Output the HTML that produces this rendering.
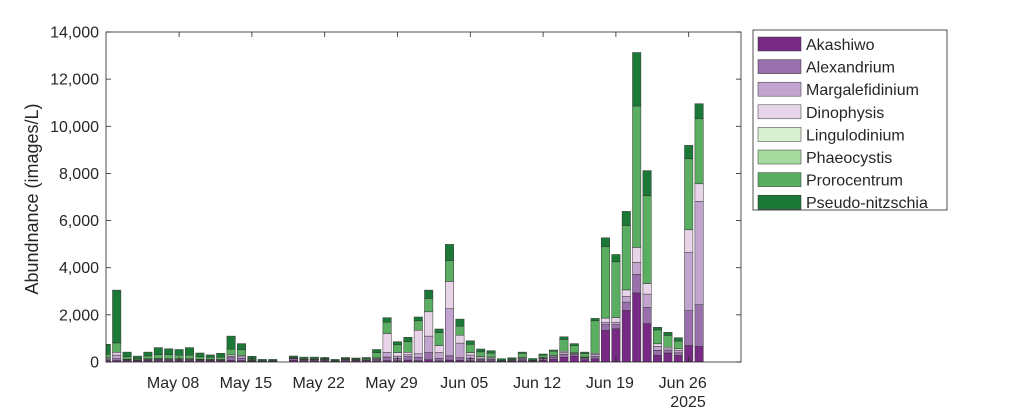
<!DOCTYPE html>
<html><head><meta charset="utf-8"><style>
body{margin:0;background:#fff;}
svg text{font-family:"Liberation Sans",Arial,sans-serif;fill:#262626;}
</style></head><body>
<svg id="s" width="1024" height="411" xmlns="http://www.w3.org/2000/svg"></svg>
<script>
const s=document.getElementById('s');
const C=['#762a83','#9970ab','#c2a5cf','#e7d4e8','#d9f0d3','#a6dba0','#5aae61','#1b7837'];
const N=['Akashiwo','Alexandrium','Margalefidinium','Dinophysis','Lingulodinium','Phaeocystis','Prorocentrum','Pseudo-nitzschia'];
const D={
0:[60,40,40,40,0,0,150,420],1:[60,80,150,120,0,0,400,2240],2:[60,30,20,10,0,0,100,200],3:[60,20,10,10,0,0,50,100],
4:[60,30,30,20,0,0,120,160],5:[60,40,30,20,0,0,160,300],6:[60,40,30,10,0,0,170,250],7:[60,40,30,10,0,0,150,240],
8:[60,40,30,10,0,0,150,320],9:[60,30,20,10,0,0,100,160],10:[60,20,20,10,0,0,90,100],11:[60,20,20,10,0,0,100,160],
12:[80,100,60,60,0,0,250,550],13:[60,100,60,60,0,0,250,250],14:[40,30,20,10,0,0,40,100],15:[40,20,0,0,0,0,0,50],16:[40,20,0,0,0,0,0,50],
18:[80,60,20,10,0,0,30,55],19:[60,40,10,10,0,0,40,50],20:[60,40,10,10,0,0,40,50],21:[50,40,10,10,0,0,30,50],22:[40,20,0,0,0,0,0,50],
23:[50,40,10,10,0,0,30,50],24:[50,30,10,10,0,0,30,40],25:[50,30,10,10,0,0,50,40],26:[50,60,40,30,0,0,220,130],
27:[60,150,200,800,0,0,480,190],28:[50,100,100,150,0,0,330,130],29:[80,150,80,100,0,0,450,190],30:[60,140,150,1000,0,0,400,160],
31:[100,300,700,1030,0,0,570,350],32:[50,100,250,300,0,0,550,150],33:[80,180,2000,1160,0,0,880,690],34:[80,100,620,340,0,0,380,300],
35:[50,100,150,100,0,0,350,150],36:[50,60,60,60,0,0,200,120],37:[50,60,60,40,0,0,170,100],38:[40,20,0,0,0,0,0,80],39:[40,30,10,10,0,0,40,50],
40:[60,60,40,30,0,0,180,50],41:[40,20,0,0,0,0,20,70],42:[80,60,30,20,0,0,100,50],43:[120,80,50,30,0,0,180,50],44:[200,120,80,60,0,0,500,110],
45:[250,80,30,30,0,0,300,90],46:[100,70,20,20,0,0,150,60],47:[140,100,80,50,0,0,1380,100],48:[1340,250,100,170,0,0,3030,380],
49:[1410,180,100,200,0,0,2360,310],50:[2190,350,250,270,0,0,2730,600],51:[2930,790,500,640,0,0,6000,2270],52:[1630,680,570,450,0,0,3720,1070],
53:[280,210,170,110,0,0,590,110],54:[380,110,70,70,0,0,500,130],55:[280,110,100,70,0,0,330,140],56:[700,1480,2480,950,0,0,3010,570],
57:[660,1770,4380,750,0,0,2760,640]};
const X0=106,X1=741,Y0=362,Y1=32,dx=10.4,k=(Y0-Y1)/14000;
let h='<defs><clipPath id="c"><rect x="'+X0+'" y="'+Y1+'" width="'+(X1-X0)+'" height="'+(Y0-Y1)+'"/></clipPath></defs><g clip-path="url(#c)">';
for(const d in D){const cx=106.3+dx*d;let y=Y0;D[d].forEach((v,i)=>{if(v<=0)return;const hh=v*k;y-=hh;
h+=`<rect x="${(cx-4.2).toFixed(1)}" y="${y.toFixed(1)}" width="8.4" height="${hh.toFixed(1)}" fill="${C[i]}" stroke="#333" stroke-width="0.5"/>`;});}
h+='</g>';
h+=`<rect x="${X0}" y="${Y1}" width="${X1-X0}" height="${Y0-Y1}" fill="none" stroke="#262626" stroke-width="0.8"/>`;
for(let v=0;v<=14000;v+=2000){const y=Y0-v*k;h+=`<line x1="${X0}" x2="${X0+5}" y1="${y}" y2="${y}" stroke="#262626" stroke-width="0.8"/><line x1="${X1}" x2="${X1-5}" y1="${y}" y2="${y}" stroke="#262626" stroke-width="0.8"/>`;
h+=`<text x="99" y="${y+5.5}" font-size="16" text-anchor="end">${v.toLocaleString('en-US')}</text>`;}
const L=['May 08','May 15','May 22','May 29','Jun 05','Jun 12','Jun 19','Jun 26'];
L.forEach((t,i)=>{const x=106.3+dx*(7+7*i);h+=`<line x1="${x}" x2="${x}" y1="${Y0}" y2="${Y0-5}" stroke="#262626" stroke-width="0.8"/><line x1="${x}" x2="${x}" y1="${Y1}" y2="${Y1+5}" stroke="#262626" stroke-width="0.8"/><text x="${x-6}" y="388" font-size="16" text-anchor="middle">${t}</text>`;});
h+=`<text x="688" y="407" font-size="16" text-anchor="middle">2025</text>`;
h+=`<text transform="translate(38,199) rotate(-90)" font-size="18" text-anchor="middle">Abundnance (images/L)</text>`;
h+=`<rect x="753" y="30" width="194" height="180" fill="#fff" stroke="#262626" stroke-width="0.8"/>`;
N.forEach((n,i)=>{const y=37+i*22.6;h+=`<rect x="758" y="${y}" width="43" height="14" fill="${C[i]}" stroke="#333" stroke-width="0.5"/><text x="806" y="${y+13}" font-size="16">${n}</text>`;});
s.innerHTML=h;
</script>
</body></html>
